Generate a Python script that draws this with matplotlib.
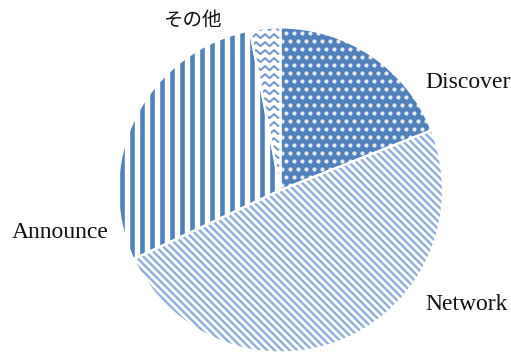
import numpy as np
import matplotlib
matplotlib.use("Agg")
import matplotlib.pyplot as plt
from matplotlib.collections import LineCollection
from matplotlib.patches import Wedge

# Share of items by category
categories = ["Discover", "Network", "Announce", "その他"]
shares = [19, 49, 29, 3]

W, H, DPI = 511, 356, 100
CX, CY, R = 280.5, 190.0, 162.5   # pie centre / radius in pixels

BLUE = "#4F81BD"

fig = plt.figure(figsize=(W / DPI, H / DPI), dpi=DPI)
ax = fig.add_axes([0, 0, 1, 1])

wedges, _ = ax.pie(shares, startangle=90, counterclock=False, radius=1,
                   colors=[BLUE, "white", "white", "white"],
                   wedgeprops=dict(edgecolor="none", linewidth=0))

ax.set_aspect("auto")
ax.set_xlim(-CX / R, (W - CX) / R)
ax.set_ylim((CY - H) / R, CY / R)
ax.axis("off")

px = 1.0 / R          # one pixel in data units
ptpx = 72.0 / DPI     # one pixel in points
lo, hi = -1.1, 1.1

# Discover: white dots on blue, staggered grid
wd = wedges[0]
step = 8 * px
pts = []
for j, y in enumerate(np.arange(lo, hi, step)):
    off = (step / 2) if j % 2 else 0.0
    for x in np.arange(lo + off, hi, step):
        pts.append((x, y))
pts = np.array(pts)
sc = ax.scatter(pts[:, 0], pts[:, 1], s=9, c="white", alpha=0.85,
                linewidths=0, zorder=3)
sc.set_clip_path(wd)

# Network: light diagonal stripes running down to the right
wn = wedges[1]
segs = []
sp = 7.5 * px
for c in np.arange(-2.5, 2.5, sp):
    segs.append([(c - 1.5, 1.5), (c + 1.5, -1.5)])
lc = LineCollection(segs, colors="#8FAEDB", linewidths=2.4 * ptpx, zorder=3)
ax.add_collection(lc)
lc.set_clip_path(wn)

# Announce: solid vertical stripes
wa = wedges[2]
segs = [[(x, -1.2), (x, 1.2)] for x in np.arange(lo, hi, 10 * px)]
lc = LineCollection(segs, colors=BLUE, linewidths=4.6 * ptpx, zorder=3)
ax.add_collection(lc)
lc.set_clip_path(wa)

# Other: stacked zigzag lines
wo = wedges[3]
segs = []
per, amp = 9 * px, 4 * px
xs = np.arange(-0.4, 0.1, per / 2)
for y0 in np.arange(-0.05, 1.15, 8 * px):
    ys = y0 + np.where(np.arange(len(xs)) % 2 == 0, 0.0, amp)
    segs.append(np.column_stack([xs, ys]))
lc = LineCollection(segs, colors="#6F98CF", linewidths=2.0 * ptpx, zorder=3)
ax.add_collection(lc)
lc.set_clip_path(wo)

# White separators between slices
for w in wedges:
    p = Wedge(w.center, w.r, w.theta1, w.theta2,
              facecolor="none", edgecolor="white",
              linewidth=2.2 * ptpx, zorder=4)
    ax.add_patch(p)


def to_data(x, y):
    return (x - CX) / R, (CY - y) / R


label_pos = [(425, 83, "left"), (425, 304, "left"), (109, 233, "right"), (163, 20, "left")]
for name, (x, y, ha) in zip(categories, label_pos):
    dx, dy = to_data(x, y)
    fam = ["Noto Sans CJK JP"] if name == "その他" else ["Liberation Serif", "DejaVu Serif"]
    size = 14 if name == "その他" else 17
    ax.text(dx, dy, name, ha=ha, va="center", fontsize=size, family=fam,
            color="#111111", zorder=5)

fig.savefig("out.png", dpi=DPI)
